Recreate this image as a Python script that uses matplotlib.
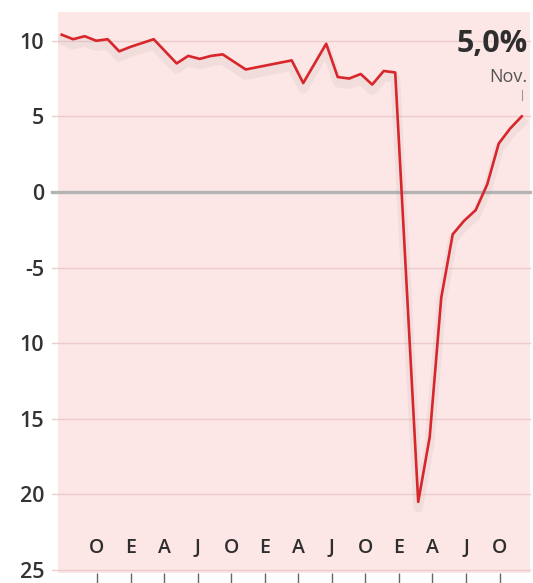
import numpy as np
import matplotlib
matplotlib.use("Agg")
from matplotlib import pyplot as plt
import matplotlib.patheffects as pe

# variación interanual, meses consecutivos (último: noviembre)
valores = [10.4, 10.1, 10.3, 10.0, 10.1, 9.3, 9.6, 9.85, 10.1, 9.3,
           8.5, 9.0, 8.8, 9.0, 9.1, 8.6, 8.1, 8.25, 8.4, 8.55,
           8.7, 7.2, 8.5, 9.8, 7.6, 7.5, 7.8, 7.1, 8.0, 7.9,
           -6.3, -20.5, -16.2, -7.0, -2.8, -1.9, -1.2, 0.5, 3.2, 4.2,
           5.0]
meses = np.arange(len(valores))

etiquetas_x = ["O", "E", "A", "J", "O", "E", "A", "J", "O", "E", "A", "J", "O"]
pos_x = 3.07 + 2.917 * np.arange(len(etiquetas_x))

ticks_y = [10, 5, 0, -5, -10, -15, -20, -25]
etiquetas_y = ["10", "5", "0", "-5", "10", "15", "20", "25"]

plt.rcParams['font.family'] = ['Open Sans', 'DejaVu Sans']

fig = plt.figure(figsize=(5.33, 5.83), dpi=100)
ax = fig.add_axes([0.1088, 0.0172, 0.8856, 0.9622])
ax.set_facecolor("#fde6e6")

ax.set_xlim(-0.32, 40.72)
ax.set_ylim(-25.2, 11.9)

# líneas de referencia
for v in ticks_y:
    if v == 0:
        ax.axhline(v, color="#b4b4b4", lw=2.4, xmin=-0.012, clip_on=False, zorder=1)
    else:
        ax.axhline(v, color="#edcccc", lw=1.0, xmin=-0.012, clip_on=False, zorder=1)

ax.plot(meses, valores, color="#d8262b", lw=1.9, solid_joinstyle="round", zorder=3,
        path_effects=[pe.SimpleLineShadow(offset=(0, -4), shadow_color="#888888",
                                          alpha=0.09, linewidth=7),
                      pe.Normal()])

for s in ax.spines.values():
    s.set_visible(False)

ax.set_yticks(ticks_y)
ax.set_yticklabels(etiquetas_y, fontsize=15.5, color="#333333", fontweight="semibold")
ax.tick_params(axis="y", length=0, pad=10)

ax.set_xticks(pos_x)
ax.set_xticklabels([])
ax.tick_params(axis="x", direction="out", length=7.5, width=1.0, color="#666666")
for x, t in zip(pos_x, etiquetas_x):
    ax.text(x, 0.044, t, transform=ax.get_xaxis_transform(), ha="center", va="center",
            fontsize=14, color="#2e2e2e", fontweight="semibold")

# dato final
ax.text(0.995, 0.97, "5,0%", transform=ax.transAxes, ha="right", va="top",
        fontsize=22, fontweight="bold", color="#2e2e2e")
ax.text(0.995, 0.90, "Nov.", transform=ax.transAxes, ha="right", va="top",
        fontsize=13, color="#555555")
ax.plot([meses[-1], meses[-1]], [valores[-1] + 1.1, valores[-1] + 1.75],
        color="#999999", lw=0.8)

plt.savefig("out.png", dpi=100)
